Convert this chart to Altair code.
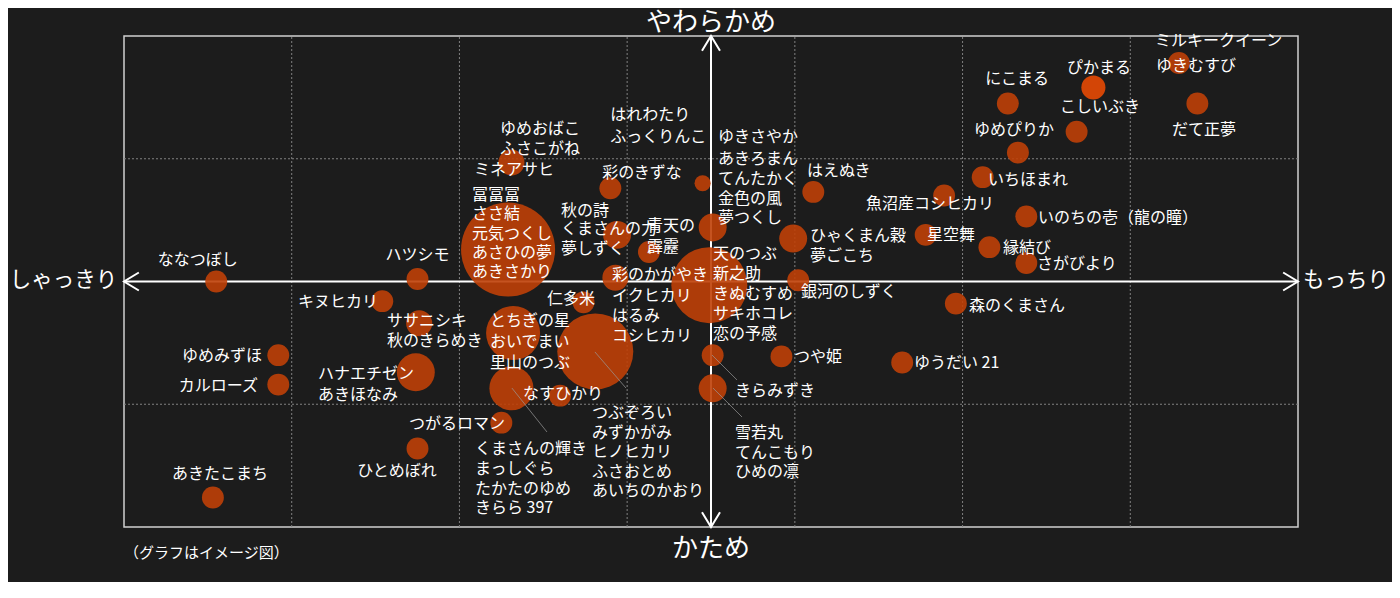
import altair as alt
import pandas as pd

# ---------------- data (x: しゃっきり -35 … もっちり 35, y: かため -20 … やわらかめ 20) ----------------
bubble_name = ["ななつぼし", "ハツシモ", "元気つくし", "ゆめおばこ", "彩のきずな", "はれわたり", "秋の詩",
               "青天の霹靂", "彩のかがやき", "天のつぶ", "コシヒカリ", "仁多米", "なすひかり", "くまさんの輝き",
               "とちぎの星", "つがるロマン", "ひとめぼれ", "あきたこまち", "ゆめみずほ", "カルローズ",
               "キヌヒカリ", "ササニシキ", "ハナエチゼン", "雪若丸", "きらみずき", "つや姫", "ゆうだい 21",
               "森のくまさん", "銀河のしずく", "ひゃくまん穀", "はえぬき", "あきろまん", "魚沼産コシヒカリ",
               "星空舞", "縁結び", "さがびより", "いのちの壱", "いちほまれ", "ゆめぴりか", "こしいぶき",
               "にこまる", "ぴかまる", "ミルキークイーン", "だて正夢"]
bubble_x = [-29.5, -17.5, -12.1, -11.9, -6.0, -0.5, -5.6,
            -3.7, -5.7, -0.1, -6.9, -7.6, -9.0, -11.9,
            -11.8, -12.5, -17.5, -29.7, -25.8, -25.8,
            -19.6, -17.4, -17.6, 0.1, 0.1, 4.2, 11.4,
            14.6, 5.2, 4.9, 6.1, 0.1, 13.9,
            12.8, 16.6, 18.8, 18.8, 16.2, 18.3, 21.8,
            17.7, 22.8, 27.9, 29.0]
bubble_y = [0.0, 0.2, 2.6, 9.7, 7.6, 8.0, 3.8,
            2.4, 0.3, -0.3, -5.7, -1.7, -9.3, -8.7,
            -4.2, -11.5, -13.6, -17.6, -6.0, -8.4,
            -1.6, -3.4, -7.4, -6.0, -8.7, -6.1, -6.6,
            -1.8, 0.1, 3.5, 7.3, 4.4, 7.0,
            3.8, 2.8, 1.5, 5.3, 8.5, 10.5, 12.2,
            14.5, 15.8, 17.8, 14.5]
bubble_volume = [4.8, 4.8, 88.4, 6.8, 4.8, 2.6, 7.8,
                 4.8, 6.8, 57.8, 57.8, 4.8, 4.8, 19.4,
                 29.2, 4.8, 4.8, 4.8, 4.8, 4.8,
                 4.8, 6.8, 14.4, 4.8, 7.8, 4.8, 4.8,
                 4.8, 4.8, 7.8, 4.8, 7.8, 4.8,
                 4.8, 4.8, 4.8, 4.8, 4.8, 4.8, 4.8,
                 4.8, 5.8, 4.8, 4.8]

# labels: left aligned
left_text = ["冨冨冨", "ささ結", "元気つくし", "あさひの夢", "あきさかり",
             "はれわたり", "ふっくりんこ",
             "ゆきさやか", "あきろまん", "てんたかく", "金色の風", "夢つくし",
             "はえぬき", "秋の詩", "くまさんの力", "夢しずく", "青天の", "霹靂",
             "彩のかがやき", "イクヒカリ", "はるみ", "コシヒカリ",
             "天のつぶ", "新之助", "きぬむすめ", "サキホコレ", "恋の予感",
             "ひゃくまん穀", "夢ごこち", "銀河のしずく", "星空舞", "縁結び", "さがびより",
             "いのちの壱（龍の瞳）", "いちほまれ", "ミルキークイーン", "ゆきむすび",
             "森のくまさん", "ゆうだい 21", "つや姫", "きらみずき",
             "雪若丸", "てんこもり", "ひめの凛",
             "つぶぞろい", "みずかがみ", "ヒノヒカリ", "ふさおとめ", "あいちのかおり",
             "くまさんの輝き", "まっしぐら", "たかたのゆめ", "きらら 397", "なすひかり",
             "ササニシキ", "秋のきらめき", "とちぎの星", "おいでまい", "里山のつぶ",
             "ハナエチゼン", "あきほなみ"]
left_x = [-14.25, -14.25, -14.25, -14.25, -14.25,
          -6.0, -6.0,
          0.42, 0.42, 0.42, 0.42, 0.42,
          5.72, -8.94, -8.94, -8.94, -3.82, -3.82,
          -5.9, -5.9, -5.9, -5.9,
          0.12, 0.12, 0.12, 0.12, 0.12,
          5.9, 5.9, 5.37, 12.88, 17.41, 19.44,
          19.5, 16.52, 26.48, 26.54,
          15.38, 12.1, 4.95, 1.43,
          1.43, 1.43, 1.43,
          -7.1, -7.1, -7.1, -7.1, -7.1,
          -14.07, -14.07, -14.07, -14.07, -11.21,
          -19.32, -19.32, -13.18, -13.18, -13.18,
          -23.43, -23.43]
left_y = [7.13, 5.58, 3.95, 2.4, 0.86,
          13.65, 11.85,
          11.85, 10.06, 8.43, 6.8, 5.25,
          9.08, 5.82, 4.36, 2.73, 4.6, 2.89,
          0.61, -1.1, -2.73, -4.36,
          2.32, 0.69, -0.94, -2.57, -4.2,
          3.79, 2.16, -0.77, 3.87, 2.81, 1.51,
          5.25, 8.35, 19.67, 17.64,
          -1.91, -6.56, -6.07, -8.84,
          -12.26, -13.89, -15.44,
          -10.63, -12.26, -13.81, -15.44, -16.99,
          -13.56, -15.19, -16.82, -18.37, -9.08,
          -3.14, -4.77, -3.14, -4.85, -6.56,
          -7.45, -9.16]

# labels: centred
center_text = ["ななつぼし", "ハツシモ", "ゆめおばこ", "ふさこがね", "ミネアサヒ", "彩のきずな",
               "仁多米", "魚沼産コシヒカリ", "ゆめぴりか", "こしいぶき", "にこまる", "ぴかまる",
               "だて正夢", "ひとめぼれ", "あきたこまち"]
center_x = [-30.6, -17.5, -10.2, -10.2, -11.75, -4.11,
            -8.35, 13.06, 18.07, 23.2, 18.25, 23.14,
            29.4, -18.72, -29.28]
center_y = [1.8, 2.2, 12.5, 10.88, 9.16, 8.92,
            -1.34, 6.4, 12.42, 14.3, 16.58, 17.47,
            12.42, -15.36, -15.6]

# labels: right aligned
right_text = ["つがるロマン", "ゆめみずほ", "カルローズ", "キヌヒカリ"]
right_x = [-12.28, -26.77, -27.01, -19.86]
right_y = [-11.53, -5.99, -8.43, -1.59]

# leader lines from bubble to label group
lead_x1 = [-6.92, 0.06, 0.12, -11.87]
lead_y1 = [-5.74, -5.99, -8.68, -8.68]
lead_x2 = [-5.07, 1.55, 1.85, -9.78]
lead_y2 = [-8.68, -8.02, -11.04, -12.26]

# grid
grid_x = [-25, -15, -5, 5, 15, 25]
grid_y = [-10, 10]
X_MIN, X_MAX, Y_MIN, Y_MAX = -35, 35, -20, 20

# axis titles
title_text = ["やわらかめ", "かため", "しゃっきり", "もっちり"]
title_x = [0, 0, -35.4, 35.3]
title_y = [21.1, -21.7, 0.1, 0.1]
title_align = ["center", "center", "right", "left"]

note_text = "（グラフはイメージ図）"

# ---------------- chart ----------------
FONT = "Noto Sans CJK JP"
xs = alt.Scale(domain=[X_MIN, X_MAX], nice=False, zero=False)
ys = alt.Scale(domain=[Y_MIN, Y_MAX], nice=False, zero=False)

def X(f="x"):
    return alt.X(f"{f}:Q", scale=xs, axis=None)

def Y(f="y"):
    return alt.Y(f"{f}:Q", scale=ys, axis=None)

bubbles = pd.DataFrame({"name": bubble_name, "x": bubble_x, "y": bubble_y, "volume": bubble_volume})
left_df = pd.DataFrame({"t": left_text, "x": left_x, "y": left_y})
center_df = pd.DataFrame({"t": center_text, "x": center_x, "y": center_y})
right_df = pd.DataFrame({"t": right_text, "x": right_x, "y": right_y})
lead_df = pd.DataFrame({"x": lead_x1, "y": lead_y1, "x2": lead_x2, "y2": lead_y2})
gx_df = pd.DataFrame({"x": grid_x, "y": [Y_MIN] * len(grid_x), "y2": [Y_MAX] * len(grid_x)})
gy_df = pd.DataFrame({"y": grid_y, "x": [X_MIN] * len(grid_y), "x2": [X_MAX] * len(grid_y)})
axis_df = pd.DataFrame({"x": [X_MIN, 0], "x2": [X_MAX, 0], "y": [0, Y_MIN], "y2": [0, Y_MAX]})
titles_df = pd.DataFrame({"t": title_text, "x": title_x, "y": title_y, "a": title_align})
note_df = pd.DataFrame({"t": [note_text], "x": [X_MIN], "y": [-22.0]})

grid_v = alt.Chart(gx_df).mark_rule(color="#808080", strokeWidth=1, strokeDash=[2, 2]).encode(
    x=X(), y=Y(), y2="y2:Q")
grid_h = alt.Chart(gy_df).mark_rule(color="#808080", strokeWidth=1, strokeDash=[2, 2]).encode(
    x=X(), x2="x2:Q", y=Y())
axes = alt.Chart(axis_df).mark_rule(color="white", strokeWidth=2).encode(
    x=X(), x2="x2:Q", y=Y(), y2="y2:Q")

def arrow(xv, yv, path):
    return alt.Chart(pd.DataFrame({"x": [xv], "y": [yv]})).mark_point(
        shape=path, filled=False, stroke="white", strokeWidth=2, size=324, opacity=1
    ).encode(x=X(), y=Y())

arrows = [
    arrow(X_MIN, 0, "M 1.65 -1 L 0 0 L 1.65 1"),
    arrow(X_MAX, 0, "M -1.65 -1 L 0 0 L -1.65 1"),
    arrow(0, Y_MAX, "M -1 1.65 L 0 0 L 1 1.65"),
    arrow(0, Y_MIN, "M -1 -1.65 L 0 0 L 1 -1.65"),
]

circles = alt.Chart(bubbles).mark_circle(opacity=0.9, stroke=None).encode(
    x=X(), y=Y(),
    size=alt.Size("volume:Q", scale=alt.Scale(domain=[0, 100], range=[0, 10000], zero=True), legend=None),
    color=alt.condition(alt.datum.name == "ぴかまる", alt.value("#e84a04"), alt.value("#bf4008")),
)

leads = alt.Chart(lead_df).mark_rule(color="#9a9a9a", strokeWidth=0.7).encode(
    x=X(), y=Y(), x2="x2:Q", y2="y2:Q")

def labels(df, align):
    return alt.Chart(df).mark_text(
        align=align, baseline="middle", font=FONT, fontSize=16, color="white", dy=1
    ).encode(x=X(), y=Y(), text="t:N")

tl = []
for a in ["center", "left", "right"]:
    tl.append(alt.Chart(titles_df).transform_filter(alt.datum.a == a).mark_text(
        align=a, baseline="middle", font=FONT, fontSize=26 if a == "center" else 21.5,
        color="white", dy=1
    ).encode(x=X(), y=Y(), text="t:N"))

note = alt.Chart(note_df).mark_text(
    align="left", baseline="middle", font=FONT, fontSize=15, color="white", dy=1
).encode(x=X(), y=Y(), text="t:N")

chart = alt.layer(
    grid_v, grid_h, axes, *arrows, circles, leads,
    labels(left_df, "left"), labels(center_df, "center"), labels(right_df, "right"),
    *tl, note,
).properties(
    width=1174, height=491,
    padding={"left": 116, "top": 28, "right": 94, "bottom": 55},
    autosize=alt.AutoSizeParams(type="none"),
).configure(
    background="#1c1c1c",
).configure_view(
    stroke="#d0d0d0", strokeWidth=1.5,
)

chart.save("out.html", embed_options={"renderer": "svg", "actions": False})
